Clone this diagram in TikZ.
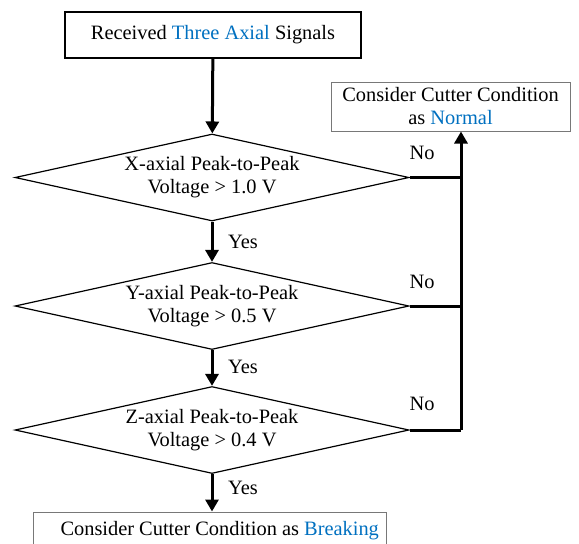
\documentclass[tikz,border=0pt]{standalone}
\usepackage{fontspec}
\setmainfont{Liberation Serif}
\usetikzlibrary{shapes.geometric,arrows.meta}
\definecolor{axblue}{RGB}{0,112,192}
\definecolor{boxgray}{RGB}{120,120,120}

\begin{document}
\begin{tikzpicture}[x=0.5pt, y=-0.5pt,
        font=\fontsize{10.2}{11.5}\selectfont,
        startbox/.style={draw, line width=0.6pt, align=center, inner sep=0pt,
            minimum width=148pt, minimum height=23pt},
        endbox/.style={draw=boxgray, line width=0.5pt, align=center, inner sep=0pt},
        decision/.style={diamond, aspect=4.53, draw, line width=0.6pt, align=center,
            inner sep=0pt, minimum width=197pt, minimum height=43.5pt},
        flow/.style={line width=1.5pt, -{Triangle[length=6pt,width=6.5pt]}},
        branch/.style={line width=1.5pt}]
    \useasboundingbox (0,0) rectangle (579,543);
    \clip (0,0) rectangle (579,543);

    \node[startbox] (start) at (213,35) {Received \textcolor{axblue}{Three Axial} Signals};

    \node[decision] (dx) at (212,177.5) {X-axial Peak-to-Peak\\Voltage > 1.0 V};
    \node[decision] (dy) at (212,306) {Y-axial Peak-to-Peak\\Voltage > 0.5 V};
    \node[decision] (dz) at (212,430) {Z-axial Peak-to-Peak\\Voltage > 0.4 V};

    \node[endbox, minimum width=119.5pt, minimum height=24.5pt] (normal) at (450.5,106.5)
        {Consider Cutter Condition\\as \textcolor{axblue}{Normal}};
    \node[endbox, anchor=west, minimum height=19pt] (breaking) at (33,531)
        {\hspace*{13.5pt}Consider Cutter Condition as \textcolor{axblue}{Breaking}\hspace*{4pt}};

    \coordinate (bus) at (461,430);

    % main line
    \draw[flow] (start) -- (dx);
    \draw[flow] (dx) -- (dy);
    \draw[flow] (dy) -- (dz);
    \draw[flow] (dz) -- (dz |- breaking.north);

    \node (yes1) at (243,242) {Yes};
    \node (yes2) at (243,367) {Yes};
    \node (yes3) at (243,488) {Yes};

    % no branches
    \draw[branch] (dx.east) -- (dx.east -| bus);
    \draw[branch] (dy.east) -- (dy.east -| bus);
    \draw[branch] (dz.east) -- (bus);
    \draw[flow] (bus) -- (bus |- normal.south);

    \node (no1) at (422,153) {No};
    \node (no2) at (422,282) {No};
    \node (no3) at (422,404) {No};
\end{tikzpicture}
\end{document}
